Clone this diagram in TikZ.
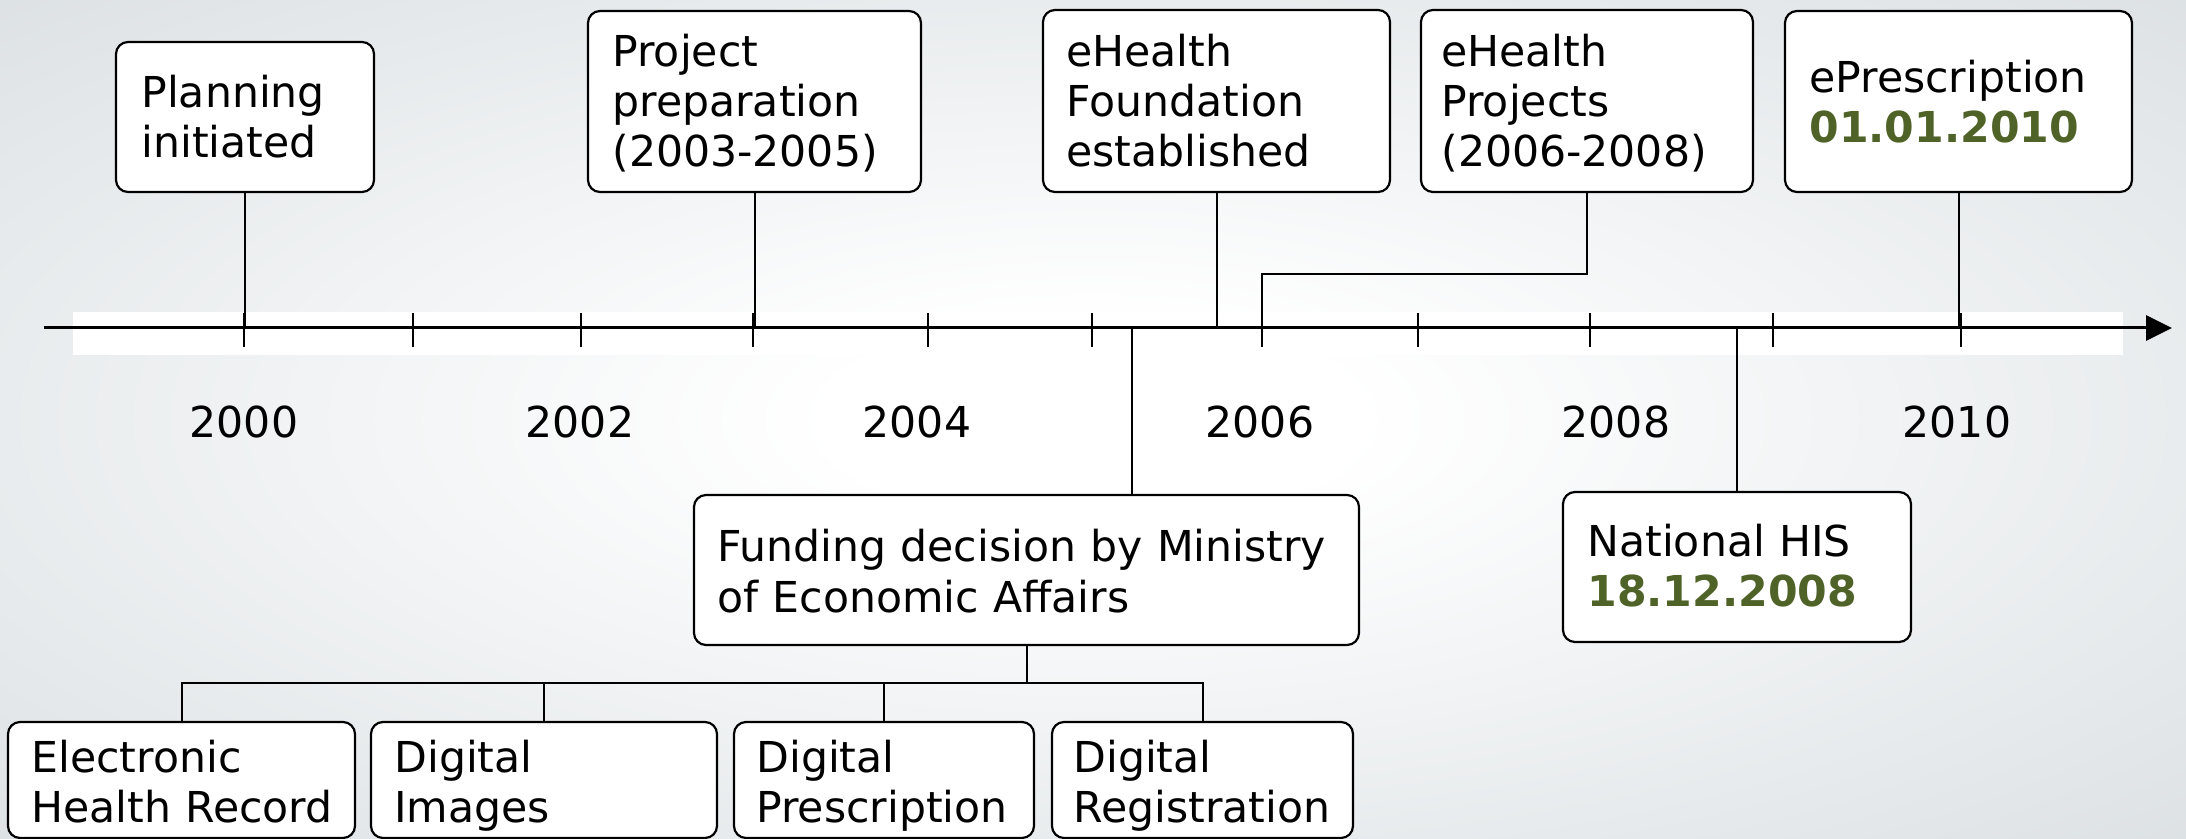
\documentclass[tikz,border=0pt]{standalone}
\usepackage{fontspec}
\setmainfont{DejaVu Sans}
\usetikzlibrary{arrows.meta}
\definecolor{bggrey}{RGB}{204,211,215}
\definecolor{olivegreen}{RGB}{79,98,40}
\pgfdeclareradialshading{bgrad}{\pgfpoint{0bp}{0bp}}{color(0bp)=(white); color(6bp)=(white); color(50bp)=(bggrey)}
\begin{document}
\begin{tikzpicture}[x=0.5pt,y=-0.5pt, font=\fontsize{21.3}{25}\selectfont,
  box/.style={draw=black, line width=1.1pt, rounded corners=6pt, fill=white, inner sep=0pt},
  txt/.style={anchor=base west, inner sep=0pt, align=left, text width=360pt},
  conn/.style={line width=1pt},
  tickmark/.style={line width=0.9pt},
  yearlbl/.style={anchor=base, inner sep=0pt}]
\useasboundingbox (0,0) rectangle (2186,839);
\shade[shading=bgrad] (0,0) rectangle (2186,839);
\fill[white] (73,312) rectangle (2123,355);
% axis
\coordinate (axs) at (44,328);
\coordinate (axe) at (2172,328);
\draw[line width=1.5pt, -{Triangle[length=13pt,width=12.5pt]}] (axs) -- (axe);
\foreach \x in {244,413,581,753,928,1092,1262,1418,1590,1773,1961}
  \draw[tickmark] (\x,313) -- (\x,347);
% year labels
\node[yearlbl] (y2000) at (244,438) {2000};
\node[yearlbl] (y2002) at (580,438) {2002};
\node[yearlbl] (y2004) at (917,438) {2004};
\node[yearlbl] (y2006) at (1260,438) {2006};
\node[yearlbl] (y2008) at (1616,438) {2008};
\node[yearlbl] (y2010) at (1957,438) {2010};
% boxes
\node[box, minimum width=129pt, minimum height=75pt] (plan) at (245,117) {};
\node[box, minimum width=166.5pt, minimum height=90.5pt] (prep) at (754.5,101.5) {};
\node[box, minimum width=173.5pt, minimum height=91pt] (found) at (1216.5,101) {};
\node[box, minimum width=166pt, minimum height=91pt] (proj) at (1587,101) {};
\node[box, minimum width=173.5pt, minimum height=90.5pt] (epres) at (1958.5,101.5) {};
\node[box, minimum width=332.5pt, minimum height=75pt] (fund) at (1026.5,570) {};
\node[box, minimum width=174pt, minimum height=75pt] (his) at (1737,567) {};
\node[box, minimum width=173.5pt, minimum height=58pt] (ehr) at (181.5,780) {};
\node[box, minimum width=173pt, minimum height=58pt] (dimg) at (544,780) {};
\node[box, minimum width=150pt, minimum height=58pt] (dpres) at (884,780) {};
\node[box, minimum width=150.5pt, minimum height=58pt] (dreg) at (1202.5,780) {};
% texts
\node[txt] (plantxt) at (141,108) {Planning\\initiated};
\node[txt] (preptxt) at (612,67) {Project\\preparation\\(2003-2005)};
\node[txt] (foundtxt) at (1066,67) {eHealth\\Foundation\\established};
\node[txt] (projtxt) at (1441,67) {eHealth\\Projects\\(2006-2008)};
\node[txt] (eprestxt) at (1809,93) {ePrescription\\{\bfseries\color{olivegreen}01.01.2010}};
\node[txt] (fundtxt) at (717,562) {Funding decision by Ministry\\of Economic Affairs};
\node[txt] (histxt) at (1587,557) {National HIS\\{\bfseries\color{olivegreen}18.12.2008}};
\node[txt] (ehrtxt) at (31,772) {Electronic\\Health Record};
\node[txt] (dimgtxt) at (394,772) {Digital\\Images};
\node[txt] (dprestxt) at (756,772) {Digital\\Prescription};
\node[txt] (dregtxt) at (1073,772) {Digital\\Registration};
% connectors
\draw[conn] (plan.south) -- (plan.south |- axs);
\draw[conn] (prep.south) -- (prep.south |- axs);
\draw[conn] (found.south) -- (found.south |- axs);
\coordinate (projturn) at (1262,274);
\draw[conn] (proj.south) |- (projturn) -- (projturn |- axs);
\draw[conn] (epres.south) -- (epres.south |- axs);
\coordinate (fundtop) at (1132,328);
\draw[conn] (fundtop) -- (fundtop |- fund.north);
\draw[conn] (his.north) -- (his.north |- axs);
\coordinate (bus) at (0,683);
\draw[conn] (fund.south) -- (fund.south |- bus);
\draw[conn] (ehr.north) |- (dreg.north |- bus) -- (dreg.north);
\draw[conn] (dimg.north) -- (dimg.north |- bus);
\draw[conn] (dpres.north) -- (dpres.north |- bus);
\end{tikzpicture}
\end{document}
